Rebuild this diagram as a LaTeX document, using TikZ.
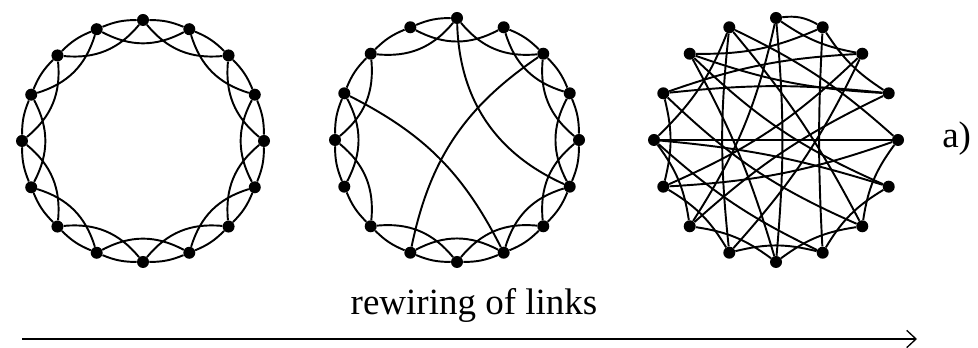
\documentclass[tikz,border=0pt]{standalone}
\usepackage{fontspec}
\setmainfont{Liberation Serif}
\usetikzlibrary{arrows.meta,calc}
\begin{document}
\begin{tikzpicture}[x=0.75pt,y=0.75pt,
  dot/.style={circle,fill=black,inner sep=0pt,minimum size=9pt},
  link/.style={line width=1.45pt,black},
  lbl/.style={font=\fontsize{27.75}{30}\selectfont,inner sep=0pt}]
\useasboundingbox (0,0) rectangle (978,348);
% nodes
\foreach \i in {0,...,15} {
  \node[dot] (a\i) at ($(143,207)+({90-22.5*\i}:121)$) {};
  \node[dot] (b\i) at ($(457,208)+({90-22.5*\i}:122)$) {};
  \node[dot] (c\i) at ($(776,208)+({90-22.5*\i}:122)$) {};
}
% regular ring lattice
\foreach \i in {0,...,15} {
  \pgfmathtruncatemacro\j{mod(\i+1,16)}
  \pgfmathtruncatemacro\k{mod(\i+2,16)}
  \draw[link] (a\i) to[bend left=11] (a\j);
  \draw[link] (a\i) to[bend right=28] (a\k);
}
% few rewired links
\foreach \i/\j in {1/2,2/3,3/4,4/5,5/6,6/7,7/8,8/9,9/10,10/11,11/12,12/13,13/14,14/15,15/0}
  \draw[link] (b\i) to[bend left=11] (b\j);
\foreach \i/\j in {0/2,1/3,2/4,3/5,4/6,5/7,6/8,7/9,8/10,10/12,11/13,12/14,14/0,15/1}
  \draw[link] (b\i) to[bend right=28] (b\j);
\draw[link] (b0) to[bend right=32] (b5);
\draw[link] (b2) to[bend right=22] (b9);
\draw[link] (b13) to[bend left=18] (b7);
% random network
\foreach \i/\j/\c in {0/1/18,0/2/-12,0/8/5,0/10/10,1/7/-3,1/14/12,1/3/-12,
  2/11/10,2/13/-8,2/9/8,3/14/8,3/13/-6,3/10/-8,4/12/0,4/15/-8,4/6/-14,
  4/11/8,5/12/-6,5/7/-14,5/14/10,6/8/-14,6/13/10,6/15/-6,7/9/-14,7/12/8,
  8/14/-6,8/10/-14,9/15/6,9/11/-14,10/12/-14,11/13/-14,12/15/-12}
  \draw[link] (c\i) to[bend left=\c] (c\j);
% labels and arrow
\node[lbl,anchor=base west] (lab) at (942,200) {a)};
\node[lbl,anchor=base] (txt) at (474,33) {rewiring of links};
\coordinate (s) at (22,9);
\coordinate (e) at (917,9);
\draw[line width=1.4pt,-{Straight Barb[length=7pt,width=13pt,line width=1pt]}] (s) -- (e);
\end{tikzpicture}
\end{document}
